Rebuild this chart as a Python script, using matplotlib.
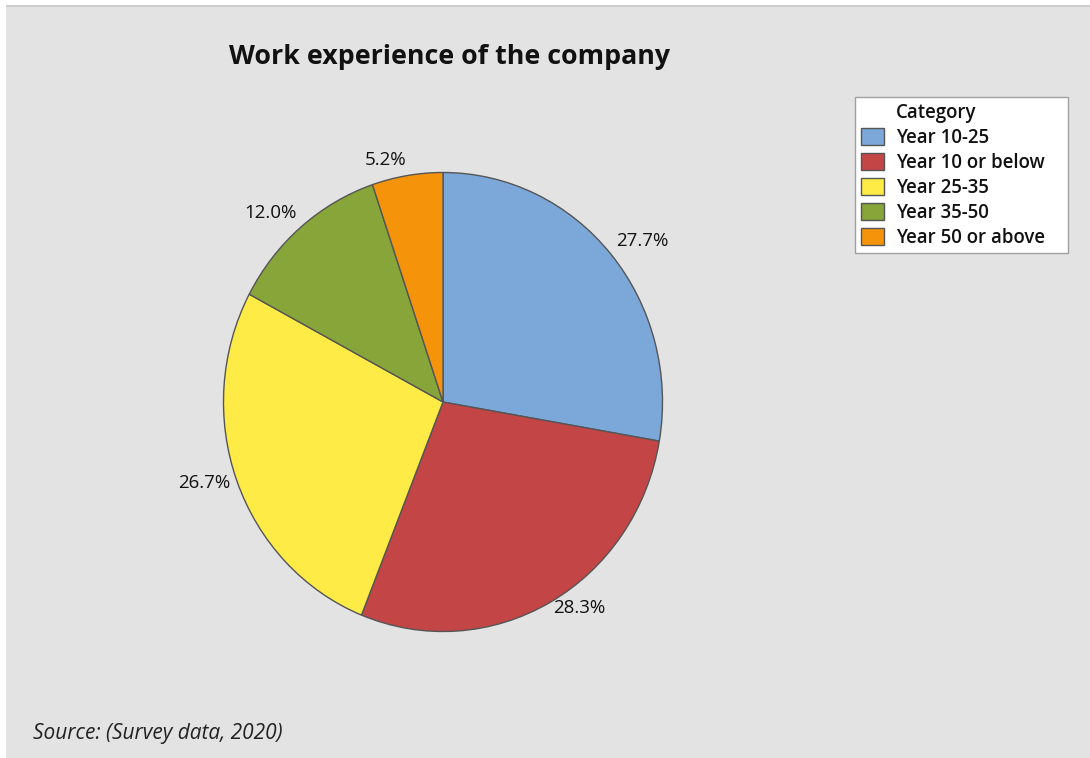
import matplotlib
matplotlib.use("Agg")
import matplotlib.pyplot as plt
from matplotlib.patches import Rectangle, Patch
import numpy as np

# Survey categories and their shares (%)
categories = ["Year 10-25", "Year 10 or below", "Year 25-35", "Year 35-50", "Year 50 or above"]
shares = [27.7, 28.3, 26.7, 12.0, 5.2]
colors = ["#7BA7D9", "#C44545", "#FFEB46", "#88A53A", "#F5940A"]

title = "Work experience of the company"
legend_title = "Category"
source_note = "Source: (Survey data, 2020)"

plt.rcParams["font.family"] = ["Open Sans", "DejaVu Sans"]

W, H, DPI = 1090, 758, 100
fig = plt.figure(figsize=(W / DPI, H / DPI), dpi=DPI, facecolor="#E3E3E3")

# white margin at top/left and a thin rule along the top of the panel
fig.patches.append(Rectangle((0, 1 - 5 / H), 1, 5 / H, transform=fig.transFigure,
                             facecolor="white", edgecolor="none", zorder=0))
fig.patches.append(Rectangle((0, 0), 6 / W, 1, transform=fig.transFigure,
                             facecolor="white", edgecolor="none", zorder=0))
fig.patches.append(Rectangle((6 / W, 1 - 7 / H), 1, 2 / H, transform=fig.transFigure,
                             facecolor="#CDCDCD", edgecolor="none", zorder=0))

# pie axes: centre (443, 402) px from top-left, radii 219.5 x 229.5 px
cx, cy = 443, H - 402
rx, ry = 219.5, 229.5
aw, ah = 2.5 * rx, 2.5 * ry
ax = fig.add_axes([(cx - aw / 2) / W, (cy - ah / 2) / H, aw / W, ah / H])
ax.set_facecolor("none")

wedges, _ = ax.pie(
    shares, colors=colors, startangle=90, counterclock=False,
    wedgeprops=dict(edgecolor="#555555", linewidth=1.0),
)
ax.set_aspect("auto")
ax.set_xlim(-1.25, 1.25)
ax.set_ylim(-1.25, 1.25)

# percentage labels just outside each wedge, aligned away from the centre
for w, val in zip(wedges, shares):
    mid = np.deg2rad((w.theta1 + w.theta2) / 2)
    x, y = 1.03 * np.cos(mid), 1.03 * np.sin(mid)
    ax.text(x, y, f"{val:.1f}%",
            ha="left" if x >= 0 else "right",
            va="bottom" if y >= 0 else "center",
            fontsize=13.5, color="#111111")

fig.text(450 / W, 1 - 57 / H, title, ha="center", va="center",
         fontsize=19.3, fontweight="bold", color="#111111")

fig.text(33 / W, 1 - 733 / H, source_note, ha="left", va="center",
         fontsize=15, fontstyle="italic", color="#222222")

# legend with the heading placed in the text column
handles = [Patch(visible=False)] + [
    Patch(facecolor=c, edgecolor="#555555", linewidth=1.0) for c in colors]
labels = [legend_title] + categories
leg = fig.legend(handles, labels, loc="upper left",
                 bbox_to_anchor=(855 / W, 1 - 97 / H, 213 / W, 0), mode="expand",
                 fontsize=13.4, frameon=True, fancybox=False, framealpha=1.0,
                 handlelength=1.25, handleheight=1.05, handletextpad=0.65,
                 labelspacing=0.27, borderpad=0.3, borderaxespad=0)
leg.get_frame().set_edgecolor("#A0A0A0")
leg.get_frame().set_facecolor("white")
leg.get_frame().set_linewidth(1.0)
for t in leg.get_texts():
    t.set_fontweight("semibold")
    t.set_color("#111111")

fig.savefig("out.png", dpi=DPI, facecolor=fig.get_facecolor())
